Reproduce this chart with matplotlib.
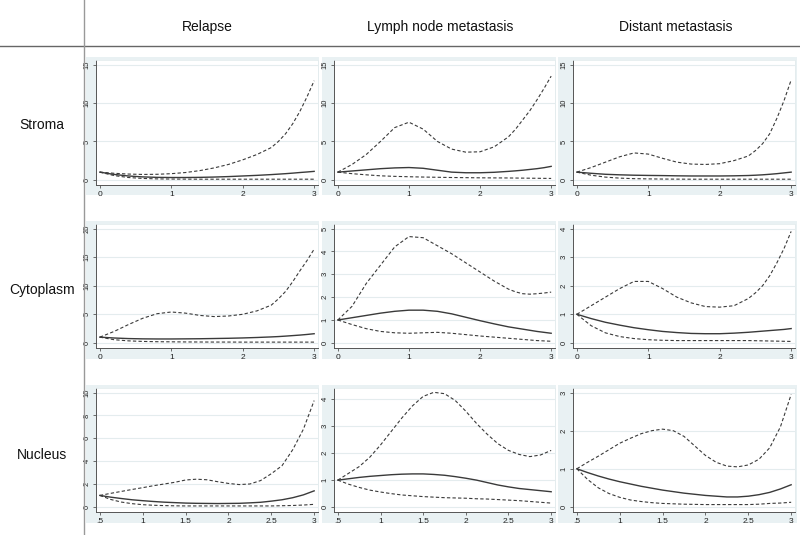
import matplotlib.pyplot as plt
from matplotlib.patches import Rectangle
from matplotlib.lines import Line2D

plt.rcParams["font.family"] = ["Liberation Sans", "DejaVu Sans"]

# column / row headers
outcomes = ["Relapse", "Lymph node metastasis", "Distant metastasis"]
compartments = ["Stroma", "Cytoplasm", "Nucleus"]

# x grids
x_full = [0.0, 0.2, 0.4, 0.6, 0.8, 1.0, 1.2, 1.4, 1.6, 1.8, 2.0, 2.2, 2.4, 2.5, 2.6, 2.7, 2.8, 2.9, 3.0]
x_nuc = [0.5, 0.625, 0.75, 0.875, 1.0, 1.125, 1.25, 1.375, 1.5, 1.625, 1.75,
         1.875, 2.0, 2.125, 2.25, 2.375, 2.5, 2.625, 2.75, 2.875, 3.0]

xticks_full = [0, 1, 2, 3]
xticklabels_full = ["0", "1", "2", "3"]
xticks_nuc = [0.5, 1, 1.5, 2, 2.5, 3]
xticklabels_nuc = [".5", "1", "1.5", "2", "2.5", "3"]

# --- Stroma ---
stroma_relapse_est = [1.0, 0.7, 0.5, 0.38, 0.32, 0.3, 0.3, 0.32, 0.36, 0.42, 0.5, 0.58, 0.68, 0.74, 0.8, 0.87, 0.95, 1.02, 1.1]
stroma_relapse_hi = [1.0, 0.85, 0.75, 0.7, 0.72, 0.8, 0.95, 1.2, 1.55, 2.0, 2.6, 3.3, 4.2, 5.0, 6.0, 7.3, 8.9, 10.8, 12.9]
stroma_relapse_lo = [1.0, 0.55, 0.3, 0.18, 0.12, 0.1, 0.09, 0.08, 0.08, 0.08, 0.08, 0.08, 0.08, 0.08, 0.08, 0.08, 0.08, 0.08, 0.08]

stroma_lymph_est = [1.0, 1.15, 1.3, 1.45, 1.55, 1.6, 1.5, 1.25, 1.0, 0.92, 0.92, 0.98, 1.1, 1.17, 1.25, 1.35, 1.45, 1.58, 1.75]
stroma_lymph_hi = [1.0, 2.0, 3.3, 5.0, 6.8, 7.5, 6.6, 5.0, 4.0, 3.6, 3.65, 4.3, 5.6, 6.6, 7.8, 9.0, 10.4, 11.9, 13.5]
stroma_lymph_lo = [1.0, 0.8, 0.65, 0.52, 0.45, 0.4, 0.36, 0.33, 0.3, 0.28, 0.26, 0.25, 0.24, 0.23, 0.22, 0.21, 0.2, 0.19, 0.18]

stroma_distant_est = [1.0, 0.85, 0.72, 0.65, 0.6, 0.57, 0.55, 0.52, 0.5, 0.5, 0.5, 0.52, 0.56, 0.6, 0.65, 0.72, 0.8, 0.9, 1.0]
stroma_distant_hi = [1.0, 1.6, 2.3, 3.0, 3.5, 3.35, 2.8, 2.3, 2.05, 2.0, 2.1, 2.5, 3.1, 3.8, 4.7, 6.0, 8.0, 10.3, 13.0]
stroma_distant_lo = [1.0, 0.6, 0.35, 0.22, 0.15, 0.12, 0.1, 0.09, 0.08, 0.08, 0.08, 0.08, 0.08, 0.08, 0.08, 0.08, 0.08, 0.08, 0.08]

# --- Cytoplasm ---
cyto_relapse_est = [1.0, 0.85, 0.75, 0.7, 0.68, 0.68, 0.7, 0.72, 0.76, 0.8, 0.86, 0.94, 1.04, 1.1, 1.18, 1.27, 1.36, 1.47, 1.6]
cyto_relapse_hi = [1.0, 2.0, 3.2, 4.3, 5.1, 5.4, 5.2, 4.8, 4.6, 4.7, 5.0, 5.6, 6.6, 7.7, 9.0, 10.7, 12.6, 14.4, 16.4]
cyto_relapse_lo = [1.0, 0.55, 0.35, 0.25, 0.2, 0.18, 0.16, 0.15, 0.14, 0.14, 0.13, 0.13, 0.13, 0.13, 0.13, 0.13, 0.13, 0.13, 0.13]

cyto_lymph_est = [1.0, 1.1, 1.2, 1.3, 1.38, 1.43, 1.43, 1.38, 1.27, 1.12, 0.97, 0.83, 0.7, 0.65, 0.6, 0.55, 0.5, 0.46, 0.42]
cyto_lymph_hi = [1.0, 1.6, 2.6, 3.4, 4.2, 4.65, 4.6, 4.25, 3.9, 3.5, 3.1, 2.7, 2.35, 2.23, 2.15, 2.13, 2.15, 2.18, 2.22]
cyto_lymph_lo = [1.0, 0.8, 0.62, 0.5, 0.44, 0.42, 0.44, 0.46, 0.42, 0.36, 0.3, 0.25, 0.2, 0.175, 0.15, 0.125, 0.1, 0.085, 0.07]

cyto_distant_est = [1.0, 0.85, 0.72, 0.62, 0.53, 0.46, 0.4, 0.36, 0.33, 0.32, 0.32, 0.34, 0.37, 0.39, 0.41, 0.43, 0.45, 0.47, 0.5]
cyto_distant_hi = [1.0, 1.3, 1.6, 1.9, 2.15, 2.15, 1.9, 1.6, 1.4, 1.27, 1.25, 1.3, 1.55, 1.75, 2.0, 2.35, 2.8, 3.3, 3.9]
cyto_distant_lo = [1.0, 0.6, 0.35, 0.22, 0.15, 0.11, 0.09, 0.08, 0.08, 0.08, 0.08, 0.08, 0.08, 0.075, 0.07, 0.065, 0.06, 0.055, 0.05]

# --- Nucleus ---
nuc_relapse_est = [1.0, 0.85, 0.73, 0.62, 0.54, 0.47, 0.41, 0.37, 0.33, 0.31, 0.3, 0.29, 0.3, 0.31, 0.35,
                   0.4, 0.5, 0.62, 0.8, 1.05, 1.4]
nuc_relapse_hi = [1.0, 1.18, 1.35, 1.52, 1.68, 1.85, 2.0, 2.15, 2.35, 2.42, 2.37, 2.2, 2.05, 1.95, 2.0,
                  2.3, 2.9, 3.6, 5.0, 6.8, 9.3]
nuc_relapse_lo = [1.0, 0.65, 0.42, 0.28, 0.19, 0.14, 0.11, 0.09, 0.08, 0.08, 0.08, 0.08, 0.08, 0.08, 0.08,
                  0.08, 0.08, 0.1, 0.12, 0.16, 0.22]

nuc_lymph_est = [1.0, 1.05, 1.1, 1.14, 1.17, 1.2, 1.22, 1.23, 1.23, 1.21, 1.18, 1.13, 1.07, 1.0, 0.91,
                 0.82, 0.75, 0.69, 0.65, 0.61, 0.57]
nuc_lymph_hi = [1.0, 1.25, 1.5, 1.85, 2.3, 2.8, 3.3, 3.75, 4.1, 4.25, 4.2, 3.95, 3.55, 3.1, 2.7,
                2.35, 2.1, 1.95, 1.87, 1.93, 2.1]
nuc_lymph_lo = [1.0, 0.85, 0.73, 0.63, 0.56, 0.5, 0.45, 0.42, 0.39, 0.37, 0.35, 0.34, 0.33, 0.31, 0.3,
                0.28, 0.26, 0.24, 0.21, 0.18, 0.15]

nuc_distant_est = [1.0, 0.9, 0.81, 0.73, 0.66, 0.6, 0.54, 0.49, 0.44, 0.4, 0.36, 0.33, 0.3, 0.28, 0.26,
                   0.26, 0.28, 0.32, 0.38, 0.47, 0.58]
nuc_distant_hi = [1.0, 1.17, 1.33, 1.5, 1.67, 1.8, 1.92, 2.0, 2.04, 2.0, 1.85, 1.6, 1.35, 1.17, 1.07,
                  1.05, 1.1, 1.25, 1.55, 2.1, 2.95]
nuc_distant_lo = [1.0, 0.72, 0.5, 0.35, 0.25, 0.18, 0.14, 0.11, 0.09, 0.08, 0.07, 0.065, 0.06, 0.06, 0.06,
                  0.06, 0.06, 0.07, 0.09, 0.1, 0.12]

# y tick tops per panel (rows x cols)
ytop = [[15, 15, 15],
        [20, 5, 4],
        [10, 4, 3]]
ystep = [[5, 5, 5],
         [5, 1, 1],
         [2, 1, 1]]

panels = [
    [(stroma_relapse_est, stroma_relapse_hi, stroma_relapse_lo),
     (stroma_lymph_est, stroma_lymph_hi, stroma_lymph_lo),
     (stroma_distant_est, stroma_distant_hi, stroma_distant_lo)],
    [(cyto_relapse_est, cyto_relapse_hi, cyto_relapse_lo),
     (cyto_lymph_est, cyto_lymph_hi, cyto_lymph_lo),
     (cyto_distant_est, cyto_distant_hi, cyto_distant_lo)],
    [(nuc_relapse_est, nuc_relapse_hi, nuc_relapse_lo),
     (nuc_lymph_est, nuc_lymph_hi, nuc_lymph_lo),
     (nuc_distant_est, nuc_distant_hi, nuc_distant_lo)],
]

W, H = 800, 535
fig = plt.figure(figsize=(W / 100, H / 100), dpi=100)
fig.patch.set_facecolor("white")

# panel geometry in pixels
bg_x = [(86, 319), (322, 556), (558, 797)]
bg_y = [(57, 195), (221, 359), (385, 523)]
ax_x = [(96, 318), (334, 555), (573, 795)]
ax_y = [(60, 185), (224, 348), (388, 512)]

BG = "#e9f1f3"
LINE = "#3a3a3a"
AXC = "#555555"


def fig_rect(x0, x1, y0, y1):
    return [x0 / W, 1 - y1 / H, (x1 - x0) / W, (y1 - y0) / H]


# header separator lines
fig.add_artist(Line2D([0, 1], [1 - 46 / H, 1 - 46 / H], color="#666666", lw=1.0,
                      transform=fig.transFigure))
fig.add_artist(Line2D([84 / W, 84 / W], [0, 1], color="#999999", lw=1.0,
                      transform=fig.transFigure))

col_centres = [207, 440, 676]
for j, name in enumerate(outcomes):
    fig.text(col_centres[j] / W, 1 - 27 / H, name, ha="center", va="center",
             fontsize=10, color="#111111")

row_centres = [125, 290, 455]
for i, name in enumerate(compartments):
    fig.text(42 / W, 1 - row_centres[i] / H, name, ha="center", va="center",
             fontsize=10, color="#111111")

for i in range(3):
    for j in range(3):
        l, b, w, h = fig_rect(bg_x[j][0], bg_x[j][1], bg_y[i][0], bg_y[i][1])
        fig.add_artist(Rectangle((l, b), w, h, transform=fig.transFigure,
                                 facecolor=BG, edgecolor="none", zorder=0))

        ax = fig.add_axes(fig_rect(ax_x[j][0], ax_x[j][1], ax_y[i][0], ax_y[i][1]))
        ax.set_facecolor("white")
        est, hi, lo = panels[i][j]
        xs = x_nuc if i == 2 else x_full

        ax.plot(xs, hi, color=LINE, lw=0.8, ls=(0, (3, 2)))
        ax.plot(xs, lo, color=LINE, lw=0.8, ls=(0, (3, 2)))
        ax.plot(xs, est, color=LINE, lw=1.0)

        if i == 2:
            ax.set_xticks(xticks_nuc)
            ax.set_xticklabels(xticklabels_nuc)
        else:
            ax.set_xticks(xticks_full)
            ax.set_xticklabels(xticklabels_full)
        xr = xs[-1] - xs[0]
        ax.set_xlim(xs[0] - 0.018 * xr, xs[-1] + 0.018 * xr)

        top = ytop[i][j]
        yt = list(range(0, top + 1, ystep[i][j]))
        ax.set_yticks(yt)
        ax.set_yticklabels([str(v) for v in yt], rotation=90, va="center")
        ymax = max(top, max(hi))
        ax.set_ylim(-0.045 * top, ymax + 0.04 * top)

        ax.grid(True, axis="y", color="#e4ecee", lw=0.8)
        ax.set_axisbelow(True)
        ax.tick_params(axis="x", labelsize=6, length=2.5, width=0.6,
                       colors=AXC, pad=1.5, labelcolor="#222222")
        ax.tick_params(axis="y", labelsize=5.5, length=2.5, width=0.6,
                       colors=AXC, pad=1.5, labelcolor="#222222")
        for s in ["top", "right"]:
            ax.spines[s].set_color("#e4ecee")
            ax.spines[s].set_linewidth(0.6)
        for s in ["left", "bottom"]:
            ax.spines[s].set_color(AXC)
            ax.spines[s].set_linewidth(0.7)

fig.savefig("out.png", dpi=100)
